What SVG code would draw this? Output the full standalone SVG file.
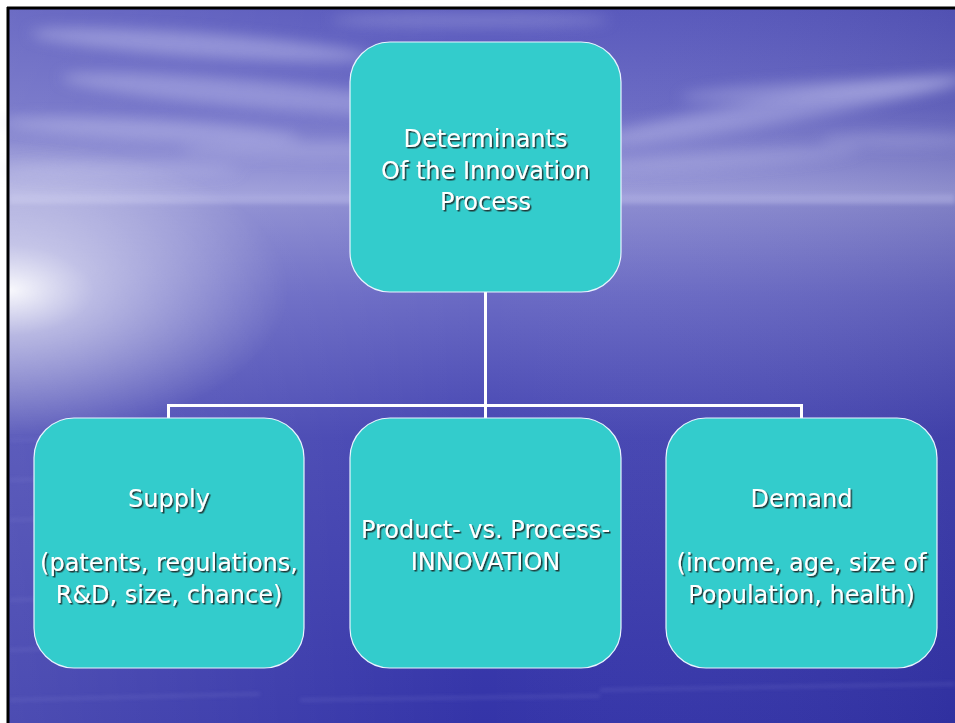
<svg xmlns="http://www.w3.org/2000/svg" width="955" height="723" viewBox="0 0 955 723">
  <defs>
    <linearGradient id="sky" x1="0" y1="0" x2="0" y2="1" gradientUnits="objectBoundingBox">
      <stop offset="0" stop-color="#5858bc"/>
      <stop offset="0.14" stop-color="#6a6ac4"/>
      <stop offset="0.255" stop-color="#9a9ad8"/>
      <stop offset="0.275" stop-color="#8a8ad0"/>
      <stop offset="0.4" stop-color="#6a6ac4"/>
      <stop offset="0.6" stop-color="#4646b2"/>
      <stop offset="1" stop-color="#3434a8"/>
    </linearGradient>
    <linearGradient id="side" x1="0" y1="0" x2="1" y2="0">
      <stop offset="0" stop-color="#ffffff" stop-opacity="0.12"/>
      <stop offset="0.5" stop-color="#ffffff" stop-opacity="0"/>
      <stop offset="1" stop-color="#000040" stop-opacity="0.08"/>
    </linearGradient>
    <radialGradient id="glow" cx="0" cy="0.5" r="0.5" fx="0" fy="0.5">
      <stop offset="0" stop-color="#ffffff" stop-opacity="0.95"/>
      <stop offset="0.3" stop-color="#ffffff" stop-opacity="0.5"/>
      <stop offset="1" stop-color="#ffffff" stop-opacity="0"/>
    </radialGradient>
    <filter id="blur" x="-20%" y="-50%" width="140%" height="200%">
      <feGaussianBlur stdDeviation="7"/>
    </filter>
    <filter id="blur2" x="-20%" y="-50%" width="140%" height="200%">
      <feGaussianBlur stdDeviation="2"/>
    </filter>
    <filter id="shadow" x="-10%" y="-20%" width="120%" height="150%">
      <feDropShadow dx="1.5" dy="1.5" stdDeviation="0.3" flood-color="#1a2a2a" flood-opacity="0.9"/>
    </filter>
  </defs>
  <style>
    .node rect { fill: #33cccc; stroke: #e8f4ff; stroke-width: 1.2; }
    .node text { font-family: "DejaVu Sans", Verdana, sans-serif; font-size: 24px; fill: #ffffff; text-anchor: middle; filter: url(#shadow); }
    .conn { fill: none; stroke: #ffffff; stroke-width: 3; }
  </style>

  <!-- page -->
  <rect x="0" y="0" width="955" height="723" fill="#ffffff"/>

  <!-- background scene -->
  <g id="background">
    <rect x="9" y="9" width="946" height="714" fill="url(#sky)"/>
    <rect x="9" y="9" width="946" height="714" fill="url(#side)"/>
    <!-- clouds -->
    <g filter="url(#blur)" fill="#c8c8f0">
      <ellipse cx="200" cy="45" rx="170" ry="12" opacity="0.45" transform="rotate(4 200 45)"/>
      <ellipse cx="260" cy="95" rx="200" ry="14" opacity="0.4" transform="rotate(5 260 95)"/>
      <ellipse cx="150" cy="130" rx="150" ry="10" opacity="0.4" transform="rotate(3 150 130)"/>
      <ellipse cx="330" cy="150" rx="150" ry="9" opacity="0.3"/>
      <ellipse cx="120" cy="170" rx="120" ry="8" opacity="0.3"/>
      <ellipse cx="780" cy="110" rx="190" ry="13" opacity="0.4" transform="rotate(-10 780 110)"/>
      <ellipse cx="820" cy="90" rx="140" ry="9" opacity="0.35" transform="rotate(-3 820 90)"/>
      <ellipse cx="720" cy="160" rx="140" ry="8" opacity="0.28" transform="rotate(-4 720 160)"/>
      <ellipse cx="900" cy="140" rx="80" ry="7" opacity="0.28"/>
      <ellipse cx="470" cy="20" rx="140" ry="8" opacity="0.28"/>
    </g>
    <!-- horizon band -->
    <rect x="9" y="194" width="946" height="10" fill="#c0c0ec" opacity="0.4" filter="url(#blur2)"/>
    <!-- sun glow on the left -->
    <rect x="9" y="140" width="560" height="300" fill="url(#glow)"/>
    <!-- water streaks -->
    <g stroke="#8a8ad8" stroke-width="2" opacity="0.35" filter="url(#blur2)">
      <line x1="9" y1="440" x2="200" y2="436"/>
      <line x1="9" y1="480" x2="160" y2="476"/>
      <line x1="9" y1="520" x2="120" y2="517"/>
      <line x1="9" y1="600" x2="180" y2="595"/>
      <line x1="9" y1="650" x2="140" y2="646"/>
      <line x1="600" y1="690" x2="955" y2="684"/>
      <line x1="300" y1="700" x2="600" y2="696"/>
      <line x1="9" y1="700" x2="260" y2="694"/>
    </g>
  </g>

  <!-- black frame lines -->
  <line x1="7" y1="8" x2="955" y2="8" stroke="#000000" stroke-width="3"/>
  <line x1="8" y1="7" x2="8" y2="723" stroke="#000000" stroke-width="3"/>

  <!-- connectors -->
  <g id="connectors">
    <path class="conn" d="M485.5,292 V418"/>
    <path class="conn" d="M168.5,418 V405.5 H801.5 V418"/>
  </g>

  <g id="node-determinants" class="node">
    <rect x="350" y="42" width="271" height="250" rx="40" ry="40"/>
    <text x="485.5" y="147">Determinants</text>
    <text x="485.5" y="178.5">Of the Innovation</text>
    <text x="485.5" y="210">Process</text>
  </g>

  <g id="node-supply" class="node">
    <rect x="34" y="418" width="270" height="250" rx="40" ry="40"/>
    <text x="169" y="507">Supply</text>
    <text x="169" y="571">(patents, regulations,</text>
    <text x="169" y="603">R&amp;D, size, chance)</text>
  </g>

  <g id="node-innovation" class="node">
    <rect x="350" y="418" width="271" height="250" rx="40" ry="40"/>
    <text x="485.5" y="538">Product- vs. Process-</text>
    <text x="485.5" y="570">INNOVATION</text>
  </g>

  <g id="node-demand" class="node">
    <rect x="666" y="418" width="271" height="250" rx="40" ry="40"/>
    <text x="801.5" y="507">Demand</text>
    <text x="801.5" y="571">(income, age, size of</text>
    <text x="801.5" y="603">Population, health)</text>
  </g>
</svg>
